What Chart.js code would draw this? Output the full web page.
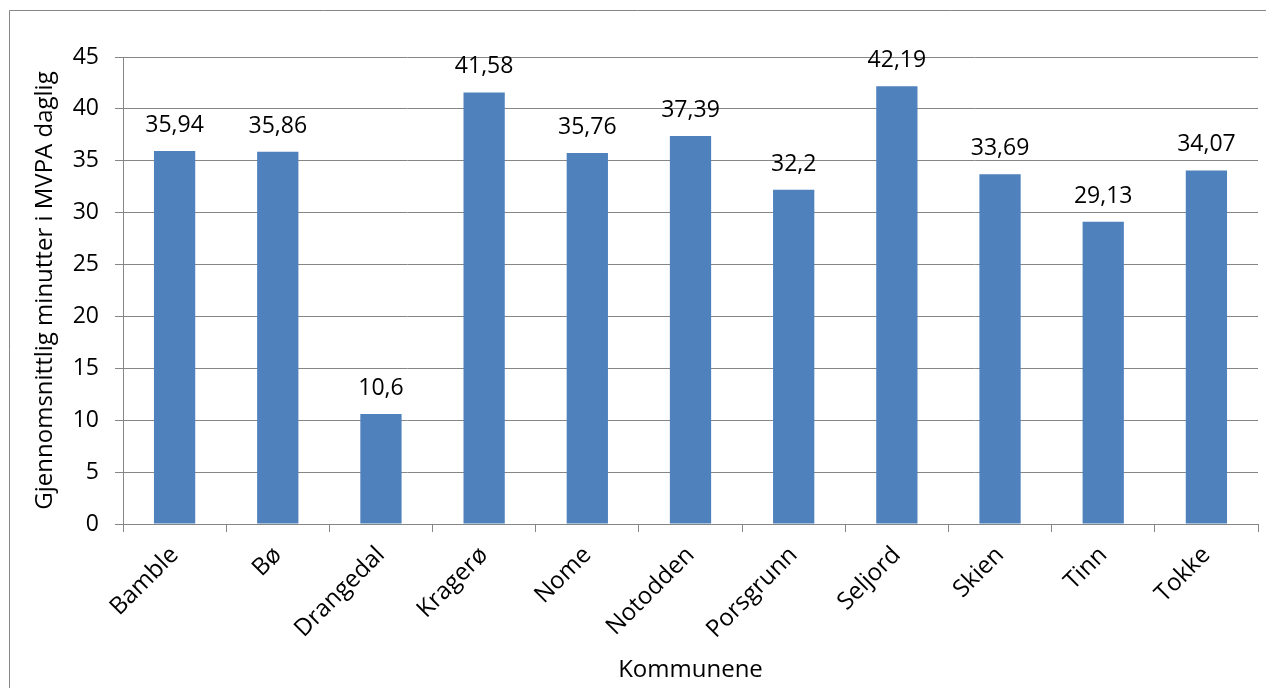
<!DOCTYPE html>
<html>
<head>
<meta charset="utf-8">
<script src="https://cdn.jsdelivr.net/npm/chart.js@4.4.1/dist/chart.umd.min.js"></script>
<style>
  html, body { margin: 0; padding: 0; background: #ffffff; }
  #wrap { width: 1266px; height: 688px; position: relative; }
</style>
</head>
<body>
<div id="wrap"><canvas id="c" width="1266" height="688"></canvas></div>
<script>
// Municipalities and average daily MVPA minutes
const kommuner = ['Bamble', 'Bø', 'Drangedal', 'Kragerø', 'Nome', 'Notodden', 'Porsgrunn', 'Seljord', 'Skien', 'Tinn', 'Tokke'];
const minutter = [35.94, 35.86, 10.6, 41.58, 35.76, 37.39, 32.2, 42.19, 33.69, 29.13, 34.07];
const yMin = 0;
const yMax = 45;
const yStep = 5;
const yTittel = 'Gjennomsnittlig minutter i MVPA daglig';
const xTittel = 'Kommunene';

const FONT = { family: '"Open Sans", "Noto Sans", sans-serif', size: 24 };
const TICKFONT = { family: '"Open Sans", "Noto Sans", sans-serif', size: 23 };
const GRID = '#868686';

// Outer chart frame (left and top edges)
const framePlugin = {
  id: 'frame',
  beforeDraw(chart) {
    const ctx = chart.ctx;
    ctx.save();
    ctx.strokeStyle = GRID;
    ctx.lineWidth = 1;
    ctx.beginPath();
    ctx.moveTo(9.5, chart.height);
    ctx.lineTo(9.5, 10.5);
    ctx.lineTo(chart.width, 10.5);
    ctx.stroke();
    ctx.restore();
  }
};

// Value labels above each bar, decimal comma
const valuePlugin = {
  id: 'values',
  afterDatasetsDraw(chart) {
    const ctx = chart.ctx;
    const meta = chart.getDatasetMeta(0);
    ctx.save();
    ctx.font = TICKFONT.size + 'px ' + TICKFONT.family;
    ctx.fillStyle = '#000000';
    ctx.textAlign = 'center';
    ctx.textBaseline = 'alphabetic';
    meta.data.forEach((bar, i) => {
      const txt = String(minutter[i]).replace('.', ',');
      ctx.fillText(txt, bar.x, bar.y - 19);
    });
    ctx.restore();
  }
};

new Chart(document.getElementById('c'), {
  type: 'bar',
  data: {
    labels: kommuner,
    datasets: [{
      data: minutter,
      backgroundColor: '#4F81BD',
      borderWidth: 0,
      categoryPercentage: 1.0,
      barPercentage: 0.4
    }]
  },
  options: {
    responsive: false,
    animation: false,
    devicePixelRatio: 1,
    layout: { padding: { top: 57, right: 8, left: 0, bottom: 0 } },
    plugins: {
      legend: { display: false },
      tooltip: { enabled: false }
    },
    scales: {
      x: {
        grid: {
          display: true,
          drawOnChartArea: false,
          drawTicks: true,
          tickLength: 8,
          color: GRID,
          offset: true
        },
        border: { display: true, color: GRID },
        ticks: {
          color: '#000000',
          font: FONT,
          minRotation: 45,
          maxRotation: 45,
          autoSkip: false,
          padding: 9
        },
        title: {
          display: true,
          text: xTittel,
          color: '#000000',
          font: FONT,
          padding: { top: 0, bottom: 3 }
        },
        afterFit(scale) { scale.height = 164; }
      },
      y: {
        min: yMin,
        max: yMax,
        ticks: {
          stepSize: yStep,
          color: '#000000',
          font: TICKFONT,
          padding: 16
        },
        grid: {
          color: GRID,
          tickLength: 8,
          drawTicks: true
        },
        border: { display: true, color: GRID },
        title: {
          display: true,
          text: yTittel,
          color: '#000000',
          font: FONT,
          padding: { top: 31, bottom: 0 }
        },
        afterFit(scale) { scale.width = 123; }
      }
    }
  },
  plugins: [framePlugin, valuePlugin]
});
</script>
</body>
</html>
